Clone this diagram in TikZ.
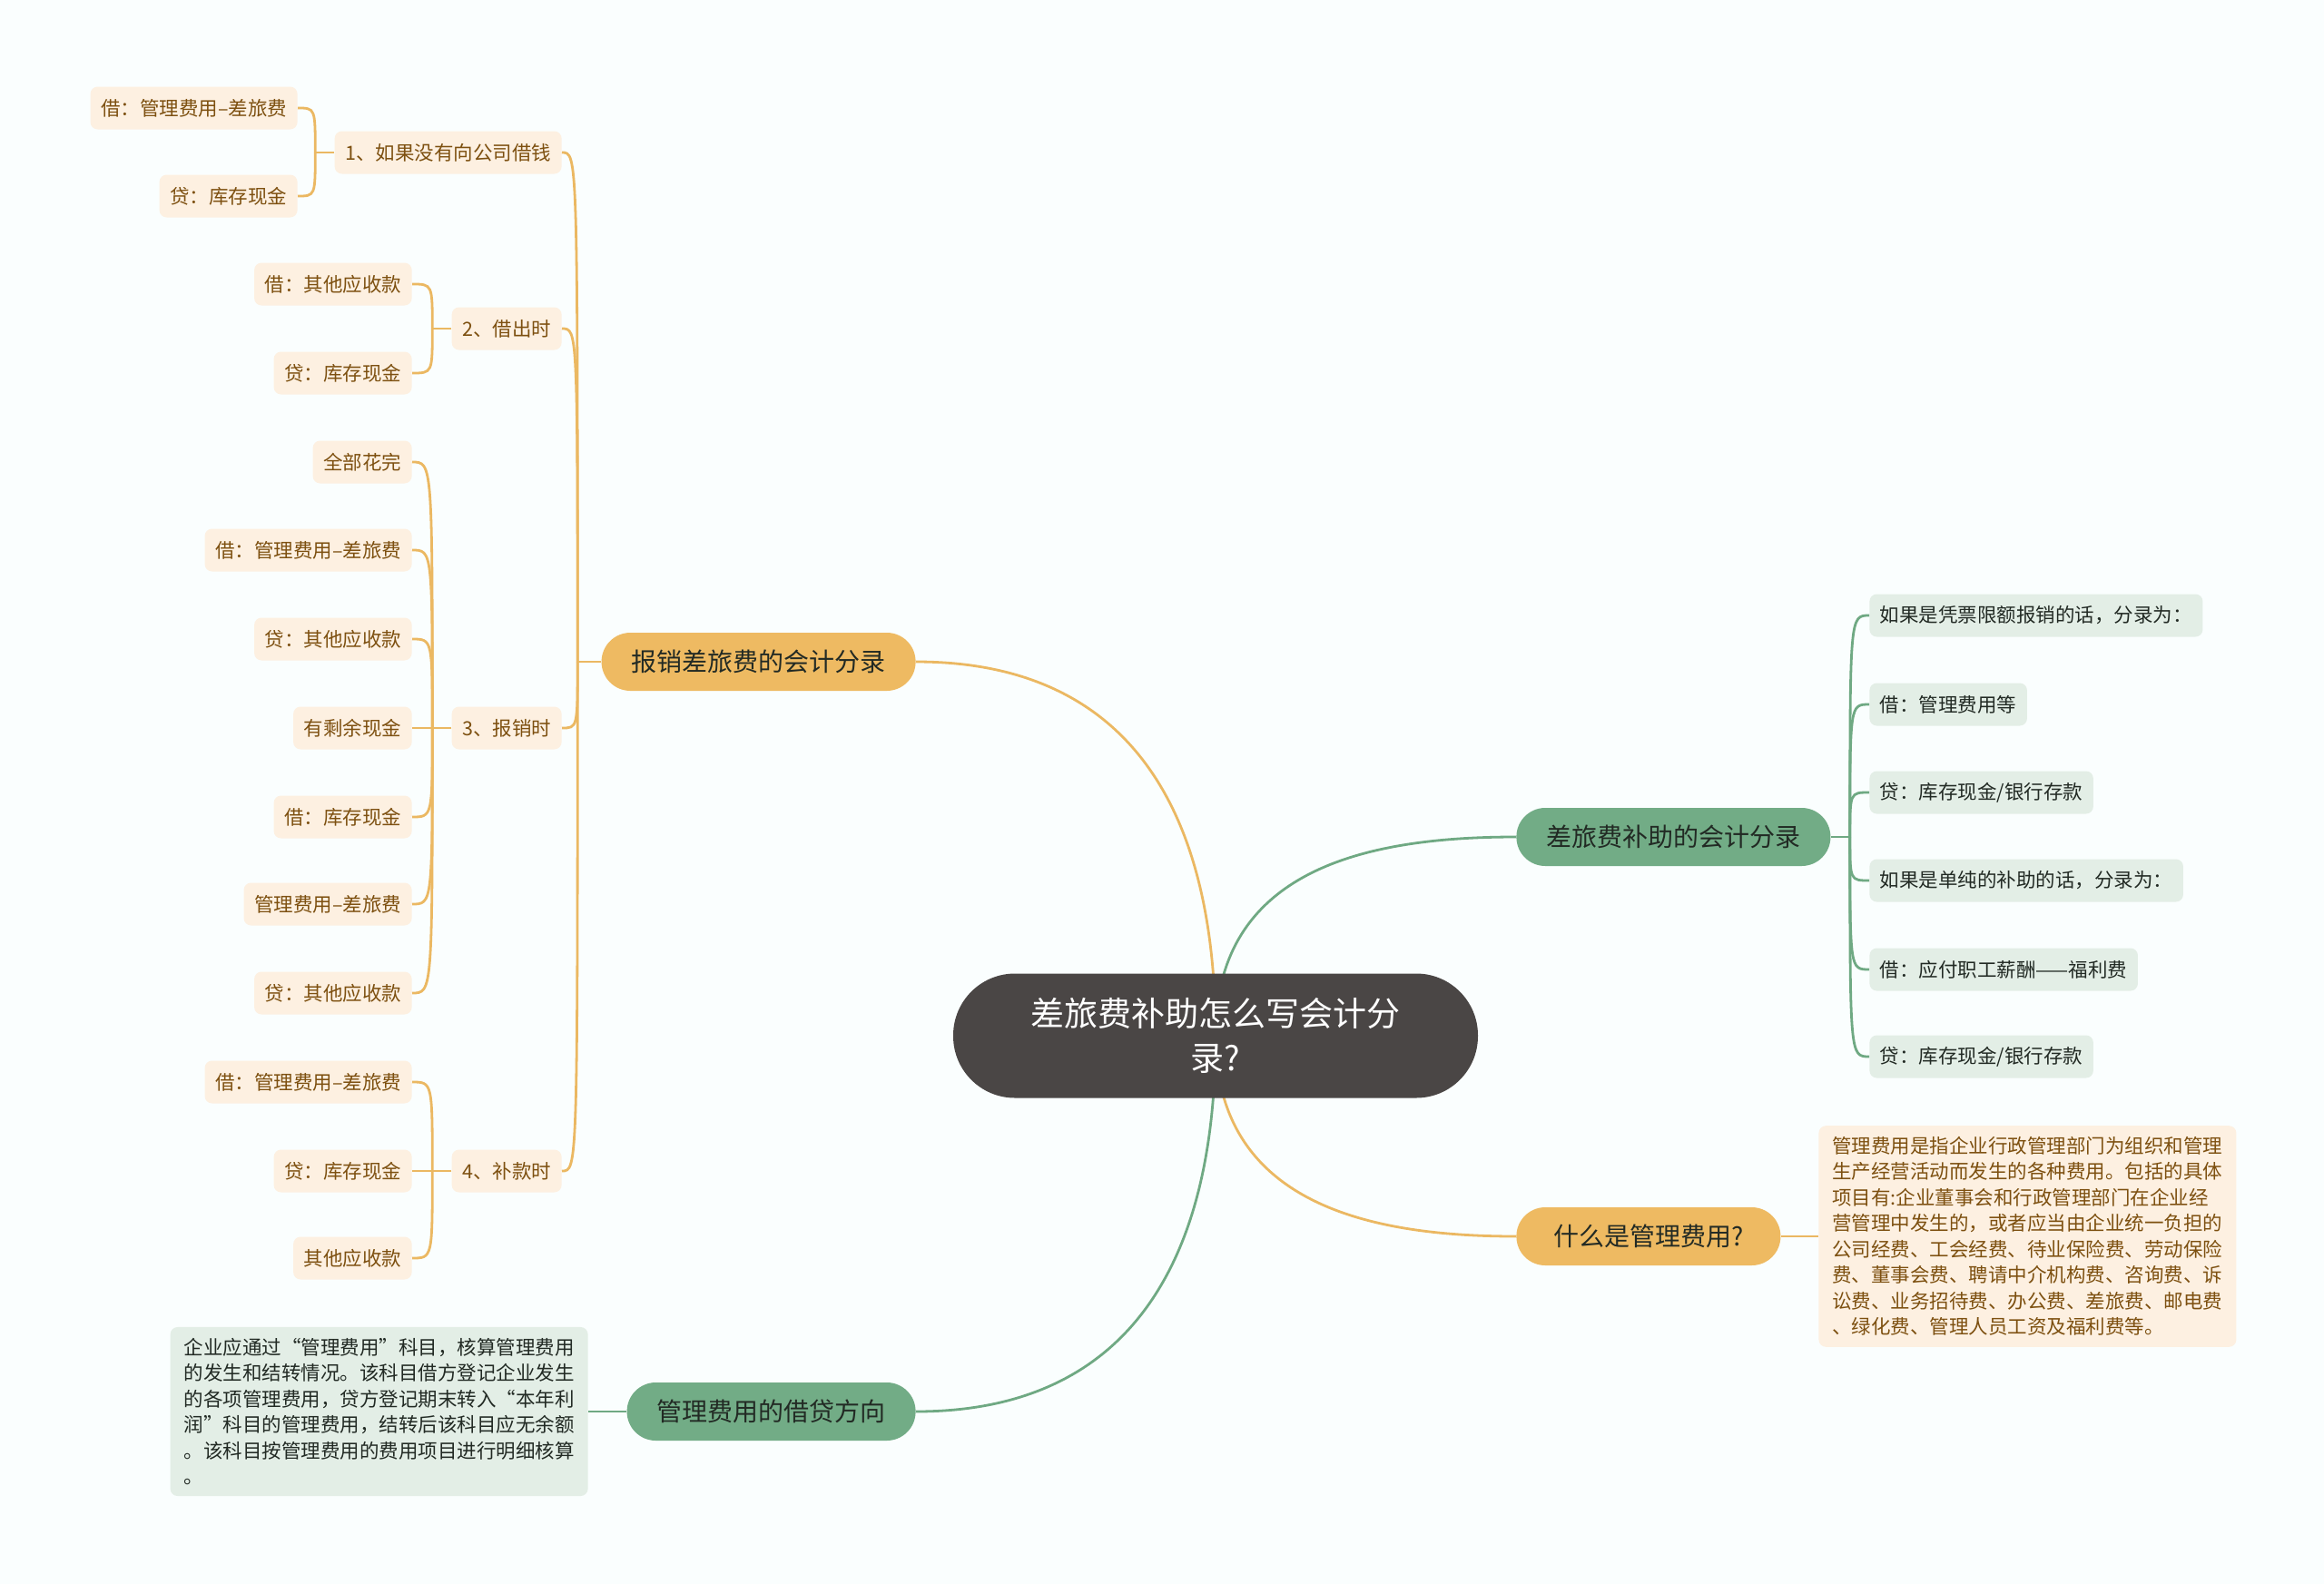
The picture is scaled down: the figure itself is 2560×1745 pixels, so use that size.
\documentclass[tikz,border=0pt]{standalone}
\usepackage{fontspec}
\setmainfont{Noto Sans CJK SC}
\usetikzlibrary{backgrounds}

\definecolor{pagebg}{HTML}{FAFEFE}
\definecolor{hubfill}{HTML}{4A4645}
\definecolor{orangefill}{HTML}{EEBA62}
\definecolor{orangeline}{HTML}{EBB862}
\definecolor{orangeleaf}{HTML}{FDF0E1}
\definecolor{orangetext}{HTML}{7D5010}
\definecolor{greenfill}{HTML}{72AC86}
\definecolor{greenline}{HTML}{6FA983}
\definecolor{greenleaf}{HTML}{E3EEE6}
\definecolor{darktext}{HTML}{222A24}

\begin{document}
\begin{tikzpicture}[x=0.5pt,y=-0.5pt]

\tikzset{hub/.style = {fill=hubfill, text=white, rounded corners=34pt, minimum width=289pt, minimum height=68.5pt, align=center, font=\fontsize{18.5pt}{24.5pt}\selectfont}}
\tikzset{topic/.style = {rounded corners=15.9pt, minimum height=32pt, inner xsep=16.5pt, text=darktext, font=\fontsize{14pt}{16pt}\selectfont}}
\tikzset{topico/.style = {topic, fill=orangefill}}
\tikzset{topicg/.style = {topic, fill=greenfill}}
\tikzset{leaf/.style = {rounded corners=4pt, minimum height=23.5pt, inner xsep=5.75pt, inner ysep=0pt, font=\fontsize{10.75pt}{13pt}\selectfont}}
\tikzset{leafo/.style = {leaf, fill=orangeleaf, text=orangetext}}
\tikzset{leafg/.style = {leaf, fill=greenleaf, text=darktext}}
\tikzset{memo/.style = {rounded corners=4pt, inner xsep=7.5pt, inner ysep=6pt, align=left, font=\fontsize{10.75pt}{14.25pt}\selectfont}}
\tikzset{orangeedge/.style = {draw=orangeline, line width=1.4pt}}
\tikzset{greenedge/.style = {draw=greenline, line width=1.4pt}}

\useasboundingbox (0,0) rectangle (2560,1745);
\begin{scope}[on background layer]
\fill[pagebg] (0,0) rectangle (2560,1745);
\end{scope}

% centre
\node[hub] (hub) at (1339,1141) {差旅费补助怎么写会计分\\录?};

% main topics
\node[topico, anchor=east] (b1) at (1009,729)  {报销差旅费的会计分录};
\node[topicg, anchor=west] (g1) at (1670,922)  {差旅费补助的会计分录};
\node[topico, anchor=west, minimum width=145.5pt] (b2) at (1670,1362) {什么是管理费用?};
\node[topicg, anchor=east] (g2) at (1009,1555) {管理费用的借贷方向};

% left: steps
\node[leafo, anchor=east] (s1) at (619,168)  {1、如果没有向公司借钱};
\node[leafo, anchor=east] (s2) at (619,362)  {2、借出时};
\node[leafo, anchor=east] (s3) at (619,802)  {3、报销时};
\node[leafo, anchor=east] (s4) at (619,1290) {4、补款时};

% left: entries
\node[leafo, anchor=east] (l11) at (328,119)  {借：管理费用–差旅费};
\node[leafo, anchor=east] (l12) at (328,216)  {贷：库存现金};
\node[leafo, anchor=east] (l21) at (454,313)  {借：其他应收款};
\node[leafo, anchor=east] (l22) at (454,411)  {贷：库存现金};
\node[leafo, anchor=east] (l31) at (454,509)  {全部花完};
\node[leafo, anchor=east] (l32) at (454,606)  {借：管理费用–差旅费};
\node[leafo, anchor=east] (l33) at (454,704)  {贷：其他应收款};
\node[leafo, anchor=east] (l34) at (454,802)  {有剩余现金};
\node[leafo, anchor=east] (l35) at (454,900)  {借：库存现金};
\node[leafo, anchor=east] (l36) at (454,996)  {管理费用–差旅费};
\node[leafo, anchor=east] (l37) at (454,1094) {贷：其他应收款};
\node[leafo, anchor=east] (l41) at (454,1192) {借：管理费用–差旅费};
\node[leafo, anchor=east] (l42) at (454,1290) {贷：库存现金};
\node[leafo, anchor=east] (l43) at (454,1386) {其他应收款};

% right: entries
\node[leafg, anchor=west] (r1) at (2059,678)  {如果是凭票限额报销的话，分录为：};
\node[leafg, anchor=west] (r2) at (2059,776)  {借：管理费用等};
\node[leafg, anchor=west] (r3) at (2059,873)  {贷：库存现金/银行存款};
\node[leafg, anchor=west] (r4) at (2059,970)  {如果是单纯的补助的话，分录为：};
\node[leafg, anchor=west] (r5) at (2059,1068) {借：应付职工薪酬——福利费};
\node[leafg, anchor=west] (r6) at (2059,1164) {贷：库存现金/银行存款};

% notes
\node[memo, fill=orangeleaf, text=orangetext, anchor=west] (n1) at (2003,1362)
  {管理费用是指企业行政管理部门为组织和管理\\生产经营活动而发生的各种费用。包括的具体\\项目有:企业董事会和行政管理部门在企业经\\营管理中发生的，或者应当由企业统一负担的\\公司经费、工会经费、待业保险费、劳动保险\\费、董事会费、聘请中介机构费、咨询费、诉\\讼费、业务招待费、办公费、差旅费、邮电费\\、绿化费、管理人员工资及福利费等。};
\node[memo, fill=greenleaf, text=darktext, anchor=east] (n2) at (648,1555)
  {企业应通过“管理费用”科目，核算管理费用\\的发生和结转情况。该科目借方登记企业发生\\的各项管理费用，贷方登记期末转入“本年利\\润”科目的管理费用，结转后该科目应无余额\\。该科目按管理费用的费用项目进行明细核算\\。};

% junctions
\coordinate (b1j) at ([xshift=-13pt]b1.west);
\coordinate (s1j) at ([xshift=-10.5pt]s1.west);
\coordinate (s2j) at ([xshift=-10.5pt]s2.west);
\coordinate (s3j) at ([xshift=-10.5pt]s3.west);
\coordinate (s4j) at ([xshift=-10.5pt]s4.west);
\coordinate (g1j) at ([xshift=10.5pt]g1.east);

%edges
\begin{scope}[on background layer]
\draw[orangeedge] (hub.center) .. controls +(0,-241) and +(241,0) .. (b1.east);
\draw[greenedge]  (hub.center) .. controls +(0,-181) and +(-170,0) .. (g1.west);
\draw[orangeedge] (hub.center) .. controls +(0,181) and +(-170,0) .. (b2.west);
\draw[greenedge]  (hub.center) .. controls +(0,241) and +(241,0) .. (g2.east);
\end{scope}

\draw[orangeedge] (b1.west) -- (b1j);
\draw[orangeedge] (b1j) .. controls (b1j |- s1.east) .. (s1.east);
\draw[orangeedge] (b1j) .. controls (b1j |- s2.east) .. (s2.east);
\draw[orangeedge] (b1j) .. controls (b1j |- s3.east) .. (s3.east);
\draw[orangeedge] (b1j) .. controls (b1j |- s4.east) .. (s4.east);

\draw[orangeedge] (s1.west) -- (s1j);
\draw[orangeedge] (s1j) .. controls (s1j |- l11.east) .. (l11.east);
\draw[orangeedge] (s1j) .. controls (s1j |- l12.east) .. (l12.east);

\draw[orangeedge] (s2.west) -- (s2j);
\draw[orangeedge] (s2j) .. controls (s2j |- l21.east) .. (l21.east);
\draw[orangeedge] (s2j) .. controls (s2j |- l22.east) .. (l22.east);

\draw[orangeedge] (s3.west) -- (s3j);
\draw[orangeedge] (s3j) .. controls (s3j |- l31.east) .. (l31.east);
\draw[orangeedge] (s3j) .. controls (s3j |- l32.east) .. (l32.east);
\draw[orangeedge] (s3j) .. controls (s3j |- l33.east) .. (l33.east);
\draw[orangeedge] (s3j) -- (l34.east);
\draw[orangeedge] (s3j) .. controls (s3j |- l35.east) .. (l35.east);
\draw[orangeedge] (s3j) .. controls (s3j |- l36.east) .. (l36.east);
\draw[orangeedge] (s3j) .. controls (s3j |- l37.east) .. (l37.east);

\draw[orangeedge] (s4.west) -- (s4j);
\draw[orangeedge] (s4j) .. controls (s4j |- l41.east) .. (l41.east);
\draw[orangeedge] (s4j) -- (l42.east);
\draw[orangeedge] (s4j) .. controls (s4j |- l43.east) .. (l43.east);

\draw[greenedge] (g1.east) -- (g1j);
\draw[greenedge] (g1j) .. controls (g1j |- r1.west) .. (r1.west);
\draw[greenedge] (g1j) .. controls (g1j |- r2.west) .. (r2.west);
\draw[greenedge] (g1j) .. controls (g1j |- r3.west) .. (r3.west);
\draw[greenedge] (g1j) .. controls (g1j |- r4.west) .. (r4.west);
\draw[greenedge] (g1j) .. controls (g1j |- r5.west) .. (r5.west);
\draw[greenedge] (g1j) .. controls (g1j |- r6.west) .. (r6.west);

\draw[orangeedge] (b2.east) -- (n1.west);
\draw[greenedge]  (g2.west) -- (n2.east);
\end{tikzpicture}
\end{document}
